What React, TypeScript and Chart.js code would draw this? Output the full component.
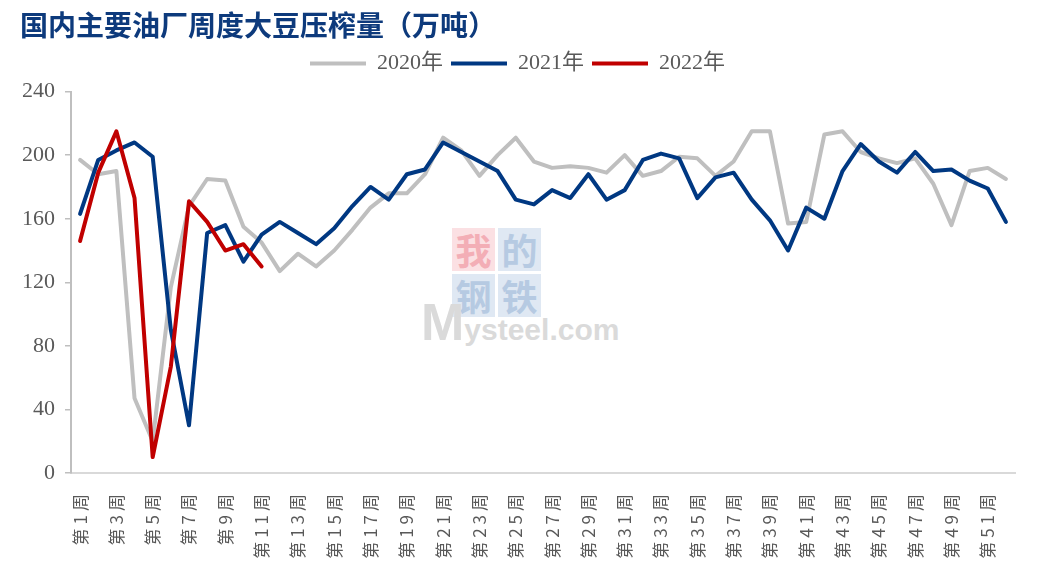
import React, { useEffect, useRef } from "react";
import { Chart, registerables } from "chart.js";

Chart.register(...registerables);

const weeks: string[] = Array.from({ length: 52 }, (_, i) => `第${i + 1}周`);

const series2020 = [197, 188, 190, 47, 20, 117, 168, 185, 184, 155, 145, 127, 138, 130, 140, 153, 167, 176, 176, 188, 211, 203, 187, 200, 211, 196, 192, 193, 192, 189, 200, 187, 190, 199, 198, 187, 196, 215, 215, 157, 158, 213, 215, 202, 198, 195, 198, 182, 156, 190, 192, 185];
const series2021 = [163, 197, 203, 208, 199, 90, 30, 151, 156, 133, 150, 158, 151, 144, 154, 168, 180, 172, 188, 191, 208, 202, 196, 190, 172, 169, 178, 173, 188, 172, 178, 197, 201, 198, 173, 186, 189, 172, 159, 140, 167, 160, 190, 207, 196, 189, 202, 190, 191, 184, 179, 158];
const series2022 = [146, 189, 215, 173, 10, 67, 171, 158, 140, 144, 130];

const seriesNames = ["2020年", "2021年", "2022年"];
const yTicks = [0, 40, 80, 120, 160, 200, 240];

const titleText = "国内主要油厂周度大豆压榨量（万吨）";

const xLabelSpacing = {
  id: "xLabelSpacing",
  afterDatasetsDraw(chart: any) {
    chart.ctx.letterSpacing = "4px";
  },
  afterDraw(chart: any) {
    chart.ctx.letterSpacing = "0px";
  },
};

export default function App() {
  const ref = useRef<HTMLCanvasElement | null>(null);

  useEffect(() => {
    if (!ref.current) return;
    const chart = new Chart(ref.current, {
      type: "line",
      data: {
        labels: weeks,
        datasets: [
          {
            label: seriesNames[0],
            data: series2020,
            borderColor: "#BFBFBF",
            backgroundColor: "#BFBFBF",
            borderWidth: 4,
            pointRadius: 0,
            borderCapStyle: "round",
            borderJoinStyle: "round",
            order: 2,
          },
          {
            label: seriesNames[1],
            data: series2021,
            borderColor: "#003882",
            backgroundColor: "#003882",
            borderWidth: 4,
            pointRadius: 0,
            borderCapStyle: "round",
            borderJoinStyle: "round",
            order: 1,
          },
          {
            label: seriesNames[2],
            data: series2022,
            borderColor: "#C00000",
            backgroundColor: "#C00000",
            borderWidth: 4,
            pointRadius: 0,
            borderCapStyle: "round",
            borderJoinStyle: "round",
            order: 0,
          },
        ],
      },
      options: {
        responsive: false,
        animation: false,
        layout: { padding: { left: 20, right: 30, top: 0, bottom: 0 } },
        plugins: {
          tooltip: { enabled: false },
          title: {
            display: true,
            text: titleText,
            align: "start",
            color: "#0D3A7C",
            font: { family: '"Noto Sans CJK SC"', size: 28, weight: "bold" },
            padding: { top: 9, bottom: 2 },
          },
          subtitle: {
            display: true,
            text: "",
            font: { size: 5 },
            padding: { top: 0, bottom: 1 },
          },
          legend: {
            display: true,
            position: "top",
            weight: 1800,
            labels: {
              usePointStyle: true,
              pointStyle: "line",
              pointStyleWidth: 56,
              padding: 8,
              color: "#595959",
              font: { family: '"Liberation Serif", "Noto Sans CJK SC"', size: 22 },
              sort: (a: any, b: any) => a.datasetIndex - b.datasetIndex,
            },
          },
        },
        scales: {
          x: {
            type: "category",
            offset: true,
            grid: { display: false },
            border: { display: true, color: "#D9D9D9", width: 2 },
            afterFit: (scale: any) => {
              scale.height = 111;
            },
            ticks: {
              autoSkip: false,
              maxRotation: 90,
              minRotation: 90,
              padding: 9,
              z: 1,
              color: "#595959",
              font: { family: '"Noto Sans CJK SC"', size: 17 },
              callback: (_v: any, i: number) => (i % 2 === 0 ? weeks[i] : ""),
            },
          },
          y: {
            min: 0,
            max: 240,
            afterFit: (scale: any) => {
              scale.width = 51;
            },
            afterBuildTicks: (scale: any) => {
              scale.ticks = yTicks.map((v) => ({ value: v }));
            },
            grid: {
              display: true,
              drawOnChartArea: false,
              drawTicks: true,
              tickLength: 6,
              color: "#BFBFBF",
              lineWidth: 1.5,
            },
            border: { display: true, color: "#BFBFBF", width: 2 },
            ticks: {
              padding: 10,
              color: "#595959",
              font: { family: '"Liberation Serif"', size: 22 },
            },
          },
        },
      },
      plugins: [xLabelSpacing],
    } as any);
    return () => chart.destroy();
  }, []);

  const sq = (left: number, top: number, bg: string, fg: string, ch: string) => (
    <div
      style={{
        position: "absolute",
        left,
        top,
        width: 43,
        height: 43,
        background: bg,
        color: fg,
        fontSize: 36,
        lineHeight: "43px",
        textAlign: "center",
        fontFamily: '"Noto Sans CJK SC"',
        fontWeight: 700,
      }}
    >
      {ch}
    </div>
  );

  return (
    <div style={{ position: "absolute", left: 0, top: 0, width: 1045, height: 584, background: "#FFFFFF", overflow: "hidden" }}>
      {sq(452, 228, "#FBE0E3", "#F3AEB6", "我")}
      {sq(498, 228, "#DFE8F3", "#B6CAE2", "的")}
      {sq(452, 274, "#DFE8F3", "#B6CAE2", "钢")}
      {sq(498, 274, "#DFE8F3", "#B6CAE2", "铁")}
      <div
        style={{
          position: "absolute",
          left: 421,
          top: 292,
          fontFamily: '"Liberation Sans"',
          fontWeight: 700,
          color: "#DADADA",
          fontSize: 30,
          whiteSpace: "nowrap",
        }}
      >
        <span style={{ fontSize: 52 }}>M</span>ysteel.com
      </div>
      <canvas ref={ref} width={1045} height={584} style={{ position: "absolute", left: 0, top: 0 }} />
    </div>
  );
}
